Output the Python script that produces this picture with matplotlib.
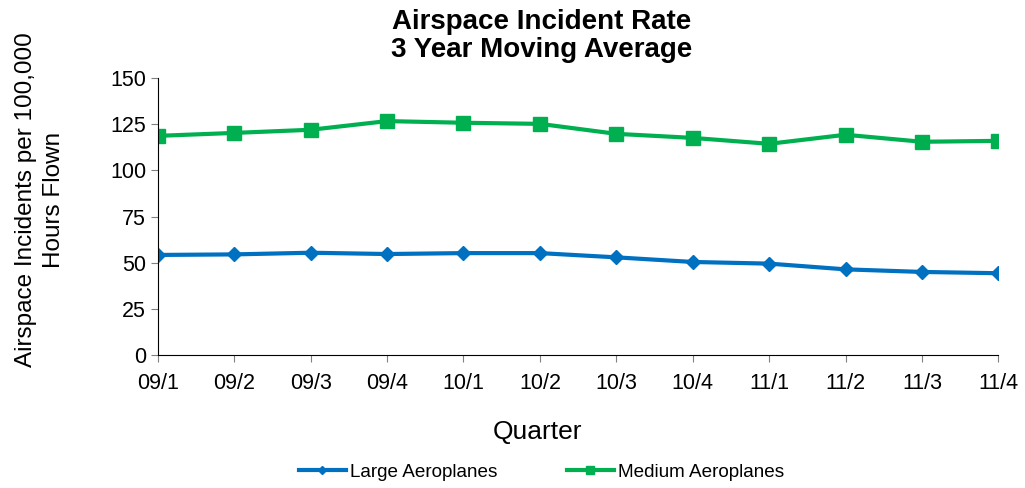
import matplotlib.pyplot as plt

plt.rcParams['font.family'] = ['Liberation Sans', 'DejaVu Sans']

quarters = ['09/1', '09/2', '09/3', '09/4', '10/1', '10/2',
            '10/3', '10/4', '11/1', '11/2', '11/3', '11/4']
large = [54.2, 54.5, 55.4, 54.7, 55.2, 55.2, 52.9, 50.4, 49.5, 46.4, 45.0, 44.3]
medium = [118.7, 120.3, 122.0, 126.7, 125.8, 125.2, 119.8, 117.6, 114.4, 119.3, 115.5, 116.0]

fig = plt.figure(figsize=(10.25, 4.88), dpi=100)
ax = fig.add_axes([0.154, 0.2725, 0.82, 0.5675])

x = range(len(quarters))
ax.plot(x, large, color='#0070c0', lw=3, marker='D', ms=7, label='Large Aeroplanes')
ax.plot(x, medium, color='#00b050', lw=3, marker='s', ms=10, label='Medium Aeroplanes')

ax.set_xlim(0, len(quarters) - 1)
ax.set_ylim(0, 150)
ax.set_yticks(range(0, 151, 25))
ax.set_xticks(list(x))
ax.set_xticklabels(quarters)
ax.tick_params(labelsize=15.5, length=5, color='#808080')
ax.tick_params(axis='x', pad=8)
for s in ['top', 'right']:
    ax.spines[s].set_visible(False)
ax.spines['left'].set_color('black')
ax.spines['bottom'].set_color('black')

fig.text(0.524, 0.115, 'Quarter', fontsize=19, ha='center', va='center')
fig.text(0.039, 0.59, 'Airspace Incidents per 100,000\nHours Flown', fontsize=17.5,
         rotation=90, ha='center', va='center', linespacing=1.3)
fig.text(0.528, 0.926, 'Airspace Incident Rate\n3 Year Moving Average', fontsize=20,
         fontweight='bold', ha='center', va='center', linespacing=1.1)

fig.legend(loc='center', bbox_to_anchor=(0.528, 0.032), ncol=2, frameon=False,
           fontsize=13.6, handlelength=2.5, columnspacing=3.7, markerscale=0.6,
           handletextpad=0.2)

fig.savefig('out.png', dpi=100)
